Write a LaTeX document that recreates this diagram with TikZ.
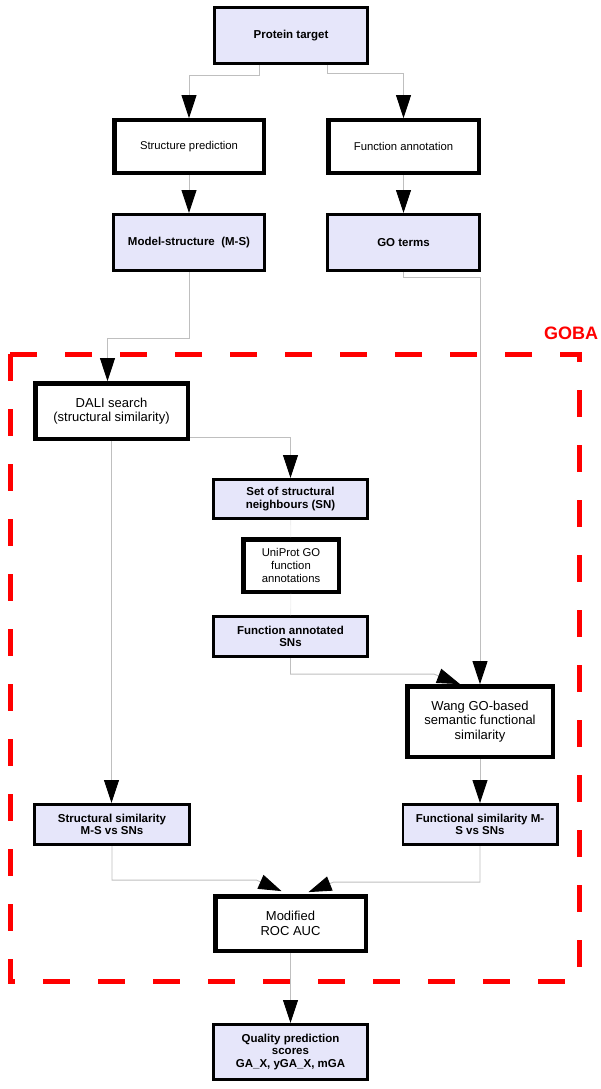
\documentclass[tikz,border=0pt]{standalone}
\usepackage{fontspec}
\setmainfont{Liberation Sans}
\usetikzlibrary{arrows.meta}
\definecolor{lavanda}{HTML}{E6E6FA}
\definecolor{rojo}{HTML}{FF0000}

\begin{document}
\begin{tikzpicture}[
    x=1pt, y=-1pt,
    caja/.style={draw, fill=lavanda, line width=2.8pt, minimum width=154.2pt, minimum height=40.2pt, inner sep=2pt, align=center, font=\bfseries\fontsize{11.5}{12.5}\selectfont},
    blanca/.style={draw, fill=white, line width=4.4pt, minimum width=150.4pt, minimum height=52.4pt, inner sep=2pt, align=center, font=\fontsize{11.3}{12.7}\selectfont},
    grande/.style={font=\fontsize{13}{14.4}\selectfont},
    flecha/.style={draw=gray!50, line width=0.9pt, -{Triangle[length=23pt,width=15pt,color=black,fill=black]}},
    tenue/.style={draw=gray!12, line width=0.9pt},
    goba/.style={draw=rojo, line width=5pt, dash pattern=on 27pt off 28pt}
]
    \useasboundingbox (0,0) rectangle (600,1089);

    % Marco GOBA
    \draw[goba] (10,354) rectangle (579,981);
    \node[text=rojo, font=\bfseries\fontsize{18}{20}\selectfont] (gobalabel) at (571,333) {GOBA};

    % Parte superior: proteína, estructura y función
    \node[caja, minimum width=153.2pt, minimum height=56.2pt] (protein) at (291,35.5) {Protein target};
    \node[blanca, minimum width=149.4pt] (strpred) at (189,146.5) {Structure prediction};
    \node[blanca] (funann) at (403.5,146.5) {Function annotation};
    \node[caja, minimum width=151.2pt, minimum height=56.2pt] (modstr) at (189,242.5) {Model-structure\ \ (M-S)};
    \node[caja, minimum width=152.2pt, minimum height=56.2pt] (goterms) at (403.5,242.5) {GO terms};

    % Dentro de GOBA
    \node[blanca, grande, minimum width=152.4pt, minimum height=55.4pt] (dali) at (111.5,411) {DALI search\\(structural similarity)};
    \node[caja, minimum height=39.2pt] (sn) at (290.5,499) {Set of structural\\neighbours (SN)};
    \node[blanca, minimum width=95.4pt, minimum height=52.4pt] (uniprot) at (291,565.5) {UniProt GO\\function\\annotations};
    \node[caja] (fasn) at (290.5,636.5) {Function annotated\\SNs};
    \node[blanca, grande, minimum width=145.4pt, minimum height=70.4pt] (wang) at (480,721.5) {Wang GO-based\\semantic functional\\similarity};
    \node[caja, minimum width=155.2pt] (strsim) at (112,824.5) {Structural similarity\\M-S vs SNs};
    \node[caja] (funsim) at (480,824.5) {Functional similarity M-\\S vs SNs};
    \node[blanca, grande, minimum height=54.4pt] (roc) at (290.5,923.5) {Modified\\ROC AUC};

    % Resultado final
    \node[caja, minimum height=55.2pt] (quality) at (290.5,1052) {Quality prediction\\scores\\GA\_X, yGA\_X, mGA};

    % Conexiones
    \draw[flecha] ([xshift=-32pt]protein.south) -- ++(0,10) -| (strpred.north);
    \draw[flecha] ([xshift=36pt]protein.south) -- ++(0,8) -| (funann.north);
    \draw[flecha] (strpred) -- (modstr);
    \draw[flecha] (funann) -- (goterms);
    \draw[flecha] (modstr.south) -- ++(0,66) -| ([xshift=-4pt]dali.north);
    \draw[flecha] (goterms.south) -- ++(0,5) -| (wang.north);
    \draw[flecha] ([yshift=-26pt]dali.east) -| (sn.north);
    \draw[flecha] (dali.south) -- (dali.south |- strsim.north);
    \draw[tenue] (sn) -- (uniprot);
    \draw[tenue] (uniprot) -- (fasn);
    \draw[flecha] (fasn.south) |- ([xshift=-46pt,yshift=10pt]wang.north) -- ([xshift=-20pt]wang.north);
    \draw[flecha] (wang) -- (funsim);
    \draw[flecha] (strsim.south) |- ([xshift=-34pt,yshift=14pt]roc.north) -- ([xshift=-9pt,yshift=3pt]roc.north);
    \draw[flecha] (funsim.south) |- ([xshift=43pt,yshift=12pt]roc.north) -- ([xshift=18pt,yshift=2pt]roc.north);
    \draw[flecha] (roc) -- (quality);
\end{tikzpicture}
\end{document}
